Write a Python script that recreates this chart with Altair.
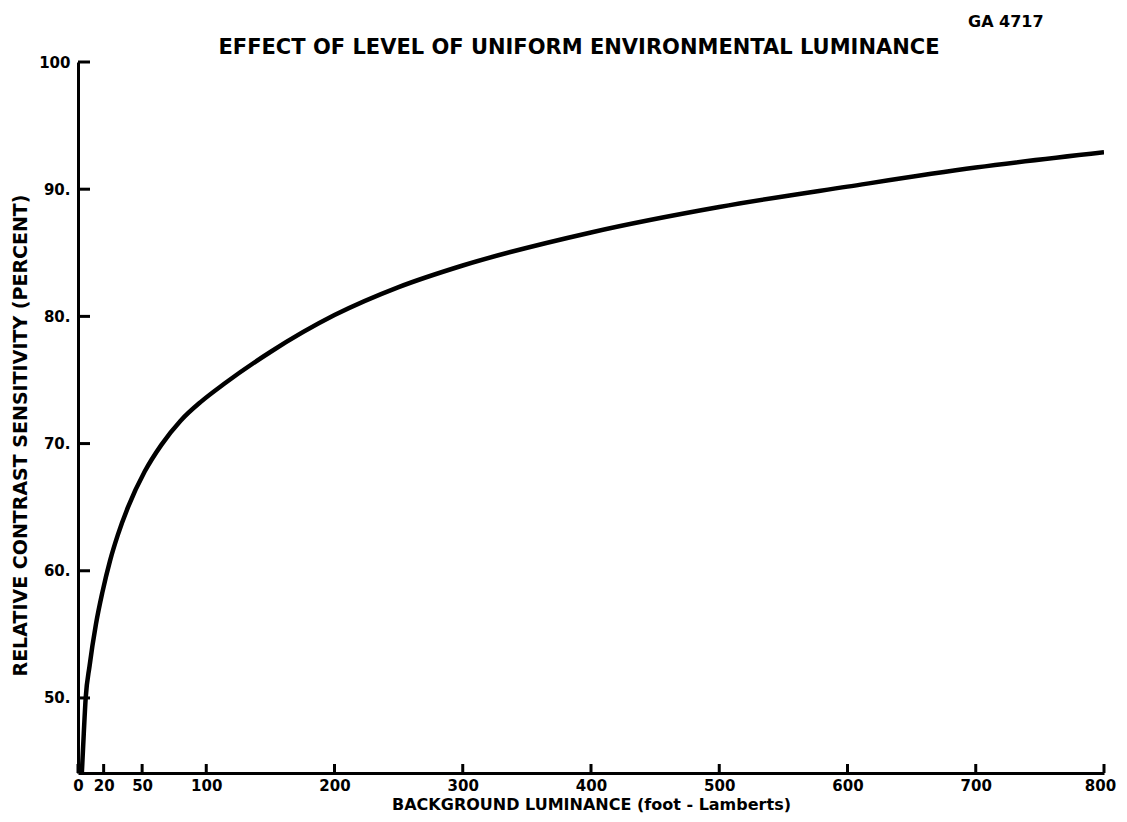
import altair as alt
import pandas as pd

# Curve values
luminance = [3, 4.5, 6, 9, 14, 19, 25, 31, 39, 52, 65, 80, 96, 114, 150, 200, 250, 300, 400, 500, 600, 700, 800]
sensitivity = [44.1, 47.2, 50.0, 52.5, 55.8, 58.3, 60.8, 62.8, 65.0, 67.8, 69.9, 71.8, 73.3, 74.7, 77.2, 80.1, 82.3, 84.0, 86.6, 88.6, 90.2, 91.7, 92.9]

x_ticks = [0, 20, 50, 100, 200, 300, 400, 500, 600, 700, 800]
y_ticks = [50, 60, 70, 80, 90, 100]

title_text = "EFFECT  OF LEVEL  OF UNIFORM  ENVIRONMENTAL  LUMINANCE"
code_text = "GA 4717"

W, H = 1026, 711
FONT = "DejaVu Sans"

curve_df = pd.DataFrame({"lum": luminance, "sens": sensitivity})
xt_df = pd.DataFrame({"t": x_ticks})
yt_df = pd.DataFrame({"t": y_ticks})

xscale = alt.Scale(domain=[0, 800], nice=False, zero=False)
yscale = alt.Scale(domain=[44.1, 100], nice=False, zero=False)

line = alt.Chart(curve_df).mark_line(color="black", strokeWidth=4.5, interpolate="monotone", clip=True).encode(
    x=alt.X("lum:Q", scale=xscale,
            axis=alt.Axis(values=x_ticks, title="BACKGROUND  LUMINANCE  (foot - Lamberts)",
                          tickSize=0, domainWidth=3, domainColor="black", grid=False,
                          labelFont=FONT, labelFontWeight="bold", labelFontSize=15, labelColor="black",
                          labelPadding=5, labelFlush=False, labelOverlap=False,
                          labelOffset={"condition": {"test": "datum.value == 800", "value": -4}, "value": 0},
                          titleFont=FONT, titleFontWeight="bold", titleFontSize=16, titleColor="black",
                          titlePadding=3)),
    y=alt.Y("sens:Q", scale=yscale,
            axis=alt.Axis(values=y_ticks, title="RELATIVE  CONTRAST  SENSITIVITY  (PERCENT)",
                          labelExpr="datum.value == 100 ? '100' : datum.value + '.'",
                          tickSize=0, domainWidth=3, domainColor="black", grid=False,
                          labelFont=FONT, labelFontWeight="bold", labelFontSize=15, labelColor="black",
                          labelPadding=8, labelFlush=False, labelOverlap=False,
                          titleFont=FONT, titleFontWeight="bold", titleFontSize=19, titleColor="black",
                          titlePadding=8, titleY=373)),
)

xticks = alt.Chart(xt_df).mark_rule(color="black", strokeWidth=3).encode(
    x=alt.X("t:Q", scale=xscale), y=alt.value(H), y2=alt.value(H - 9)
)
yticks = alt.Chart(yt_df).mark_rule(color="black", strokeWidth=3).encode(
    y=alt.Y("t:Q", scale=yscale), x=alt.value(0), x2=alt.value(12)
)

title = alt.Chart(pd.DataFrame({"label": [title_text]})).mark_text(
    font=FONT, fontWeight="bold", fontSize=21, align="center", baseline="middle", color="black"
).encode(text="label:N", x=alt.value(501), y=alt.value(-14))

ga = alt.Chart(pd.DataFrame({"label": [code_text]})).mark_text(
    font=FONT, fontWeight="bold", fontSize=16, align="left", baseline="middle", color="black"
).encode(text="label:N", x=alt.value(890), y=alt.value(-40))

chart = alt.layer(line, xticks, yticks, title, ga).properties(
    width=W, height=H,
    autosize=alt.AutoSizeParams(type="none"),
    padding={"left": 70, "top": 54, "right": 14, "bottom": 40},
).configure(background="white").configure_view(stroke=None)

chart.save("out.html", embed_options={"renderer": "svg", "actions": False})
